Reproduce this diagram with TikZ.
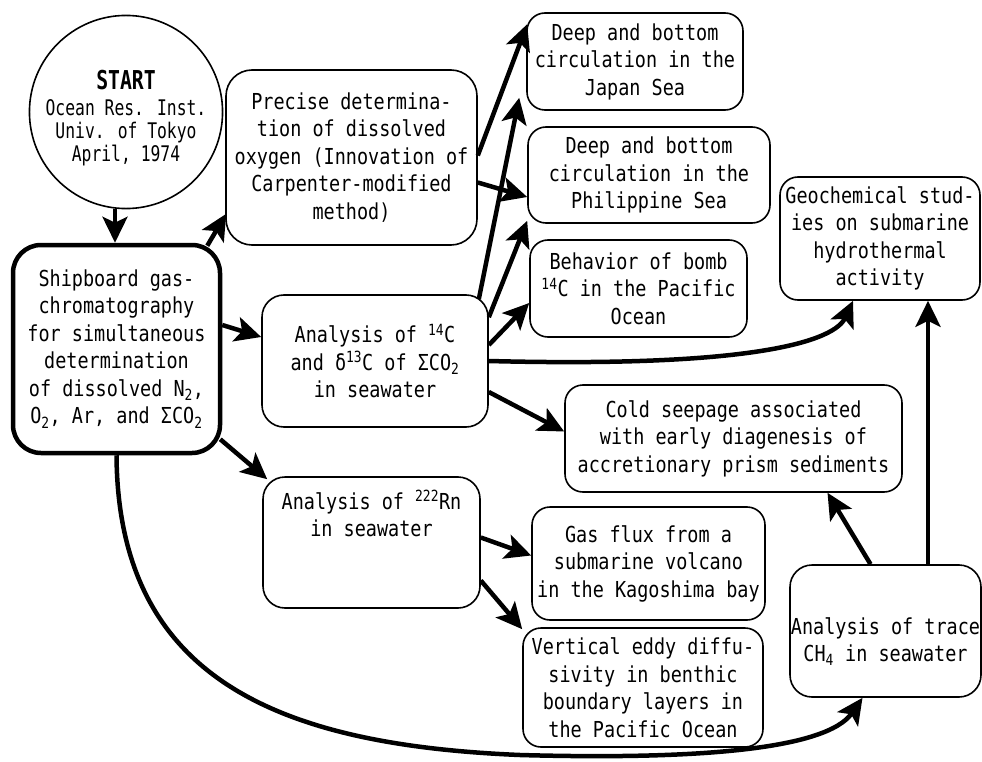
\documentclass[tikz,border=0pt]{standalone}
\usepackage{fontspec}
\setmainfont[FakeStretch=0.84]{DejaVu Sans Mono}
\newfontfamily\narrowfont[FakeStretch=0.76]{DejaVu Sans Mono}
\usetikzlibrary{arrows.meta,calc}
\newcommand{\boxfont}{\fontsize{22}{27.5}\selectfont}
\newcommand{\circfont}{\narrowfont\fontsize{21.5}{23}\selectfont}

\begin{document}
\begin{tikzpicture}[x=1pt,y=-1pt,
  box/.style={draw, line width=1.6pt, rounded corners=18pt, align=center, inner sep=0pt, font=\boxfont},
  link/.style={line width=4.5pt, -{Stealth[length=26pt,width=25pt,inset=6pt]}}]
  \useasboundingbox (0,0) rectangle (982,762);

  \node[circle, draw, line width=1.6pt, minimum size=184pt, inner sep=0pt, align=center, font=\circfont] (start) at (126,112)
    {\rule{0pt}{32pt}{\fontsize{26}{26}\selectfont\bfseries START}\\[3pt] Ocean Res. Inst.\\ Univ. of Tokyo\\ April, 1974};

  \node[box, line width=4.5pt, rounded corners=28pt, minimum width=207pt, minimum height=208pt] (ship) at (116.5,349)
    {Shipboard gas-\\chromatography\\for simultaneous\\determination\\of dissolved N\textsubscript{2},\\O\textsubscript{2}, Ar, and ΣCO\textsubscript{2}};
  \node[box, rounded corners=26pt, minimum width=251pt, minimum height=175pt] (precise) at (351.5,157.5)
    {Precise determina-\\tion of dissolved\\oxygen (Innovation of\\Carpenter-modified\\method)};
  \node[box, minimum width=216pt, minimum height=97pt] (japan) at (635,61.5)
    {Deep and bottom\\circulation in the\\Japan Sea};
  \node[box, minimum width=242pt, minimum height=96pt] (phil) at (649,175)
    {Deep and bottom\\circulation in the\\Philippine Sea};
  \node[box, minimum width=217pt, minimum height=97pt] (bomb) at (638.5,288.5)
    {Behavior of bomb\\\textsuperscript{14}C in the Pacific\\Ocean};
  \node[box, minimum width=200pt, minimum height=123pt] (geo) at (880,238.5)
    {Geochemical stud-\\ies on submarine\\hydrothermal\\activity};
  \node[box, rounded corners=22pt, minimum width=226pt, minimum height=132pt] (c14) at (375,361)
    {Analysis of \textsuperscript{14}C\\and δ\textsuperscript{13}C of ΣCO\textsubscript{2}\\in seawater};
  \node[box, rounded corners=22pt, minimum width=217pt, minimum height=131pt] (rn) at (371.5,542.5)
    {Analysis of \textsuperscript{222}Rn\\in seawater\\[30pt]};
  \node[box, minimum width=337pt, minimum height=107pt] (cold) at (733.5,438.5)
    {Cold seepage associated\\with early diagenesis of\\accretionary prism sediments};
  \node[box, minimum width=233pt, minimum height=113pt] (gas) at (648.5,563.5)
    {Gas flux from a\\submarine volcano\\in the Kagoshima bay};
  \node[box, minimum width=240pt, minimum height=119pt] (eddy) at (643,687.5)
    {Vertical eddy diffu-\\sivity in benthic\\boundary layers in\\the Pacific Ocean};
  \node[box, rounded corners=22pt, minimum width=191pt, minimum height=132pt] (ch4) at (885.5,631)
    {\rule{0pt}{38pt}Analysis of trace\\CH\textsubscript{4} in seawater};

  \draw[link] ($(start.south)+(-11,0)$) -- ($(ship.north)+(-1.5,0)$);
  \draw[link] ($(ship.north east)+(-15,3)$) -- ($(precise.south west)+(1,-32)$);
  \draw[link] ($(ship.east)+(0,-24)$) -- ($(c14.west)+(0,-24)$);
  \draw[link] ($(ship.south east)+(-2,-16)$) -- ($(rn.north west)+(5,3)$);
  \draw[link] (ship.south) .. controls (118,680) and (280,745) .. (520,755)
    .. controls (700,760) and (827,749) .. ($(ch4.south)+(-23,0)$);

  \draw[link] ($(precise.east)+(0,-2)$) -- ($(japan.north west)+(1,12)$);
  \draw[link] ($(precise.east)+(0,25)$) -- ($(phil.west)+(0,22)$);

  \draw[link] ($(c14.north east)+(-10,5)$) -- ($(japan.south west)+(-7,-13)$);
  \draw[link] ($(c14.north east)+(0,23)$) -- ($(phil.south west)+(0,-3)$);
  \draw[link] ($(c14.east)+(0,-16)$) -- ($(bomb.west)+(0,14.5)$);
  \draw[link] (c14.east) .. controls (760,368) and (835,340) .. ($(geo.south)+(-27,0)$);
  \draw[link] ($(c14.east)+(0,31)$) -- ($(cold.west)+(0,-7)$);

  \draw[link] ($(rn.east)+(0,-5)$) -- ($(gas.west)+(0,-8)$);
  \draw[link] ($(rn.east)+(0,38)$) -- ($(eddy.north west)+(0,2)$);

  \draw[link] ($(ch4.north)+(-15,0)$) -- ($(cold.south)+(94,0)$);
  \draw[link] ($(ch4.north)+(42.5,0)$) -- ($(geo.south)+(48,0)$);
\end{tikzpicture}
\end{document}
